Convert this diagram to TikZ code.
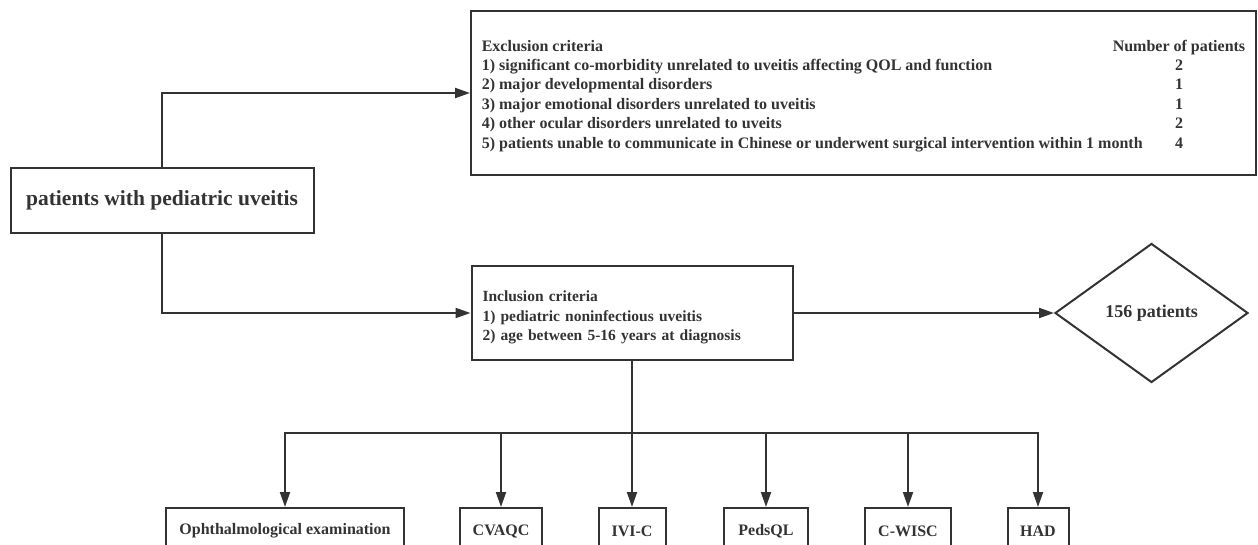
\documentclass[tikz,border=0pt]{standalone}
\usepackage{fontspec}
\setmainfont{Liberation Serif}
\usetikzlibrary{shapes.geometric,arrows.meta}
\definecolor{ink}{HTML}{333333}

\begin{document}
\begin{tikzpicture}[x=1pt, y=-1pt, color=ink, line width=2pt, font=\bfseries,
    box/.style={draw, rectangle, inner sep=0pt},
    flow/.style={-{Triangle[length=15pt,width=10pt]}}]
    % Page frame
    \useasboundingbox (0,0) rectangle (1258,545);
    \clip (0,0) rectangle (1258,545);

    % Define font sizes
    \def\exclfont{\fontsize{16}{19.4}\selectfont\bfseries}
    \def\inclfont{\fontsize{15.5}{19.5}\selectfont\bfseries}
    \def\testfont{\fontsize{16}{19}\selectfont\bfseries}

    % Starting population
    \node[box, minimum width=303, minimum height=65, font=\fontsize{21.5}{25}\selectfont\bfseries]
        (patients) at (162,200.5) {patients with pediatric uveitis};

    % Exclusion criteria
    \node[box, minimum width=785, minimum height=164, font=\exclfont] (excl) at (863.5,93) {%
        \raisebox{-7pt}[0pt][0pt]{\begin{tabular}{@{}p{631pt}@{}c@{}}
            Exclusion criteria & Number of patients\\
            1) significant co-morbidity unrelated to uveitis affecting QOL and function & 2\\
            2) major developmental disorders & 1\\
            3) major emotional disorders unrelated to uveitis & 1\\
            4) other ocular disorders unrelated to uveits & 2\\
            \makebox[0pt][l]{5) patients unable to communicate in Chinese or underwent surgical intervention within 1 month} & 4
        \end{tabular}}};

    % Inclusion criteria
    \node[box, text width=299, inner xsep=11, minimum height=94, align=left, font=\inclfont]
        (incl) at (632,313) {%
        \raisebox{-8pt}[0pt][0pt]{\begin{tabular}{@{}l@{}}
            Inclusion criteria\\
            1) pediatric noninfectious uveitis\\
            2) age between 5-16 years at diagnosis
        \end{tabular}}};

    % Final count
    \node[draw, diamond, aspect=1.39, minimum width=193, minimum height=139, inner sep=0pt,
        font=\fontsize{18}{22}\selectfont\bfseries] (total) at (1151.5,313) {156 patients};

    % Assessments
    \foreach \name/\xc/\w/\txt in {ophth/285/238/Ophthalmological examination, cvaqc/501/82/CVAQC,
        ivic/632/67/IVI-C, pedsql/766/84/PedsQL, cwisc/908/86/C-WISC, had/1038/61/HAD}
        \node[box, minimum width=\w, minimum height=46, anchor=north, font=\testfont]
            (\name) at (\xc,507) {\txt};

    % Connectors
    \draw[flow] (patients.north) |- (excl.west);
    \draw[flow] (patients.south) |- (incl.west);
    \draw[flow] (incl.east) -- (total.west);

    \coordinate (split) at (632,433);
    \draw (incl.south) -- (split);
    \foreach \name in {ophth,cvaqc,ivic,pedsql,cwisc,had}
        \draw[flow] (split) -| (\name.north);
\end{tikzpicture}
\end{document}
